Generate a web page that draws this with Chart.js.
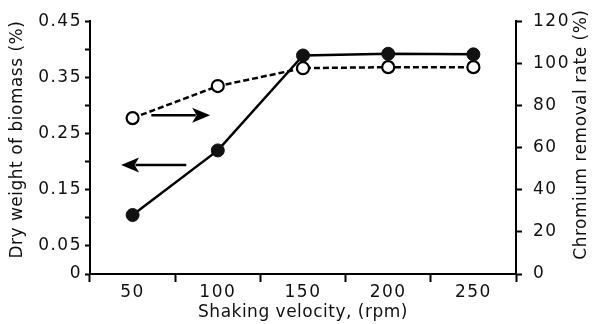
<!DOCTYPE html>
<html>
<head>
<meta charset="utf-8">
<script src="https://cdn.jsdelivr.net/npm/chart.js@4"></script>
<style>
html,body{margin:0;padding:0;background:#fff;}
#wrap{width:598px;height:324px;position:relative;}
</style>
</head>
<body>
<div id="wrap"><canvas id="c" width="598" height="324"></canvas></div>
<script>
const categories = ['50', '100', '150', '200', '250'];
const biomass = [0.105, 0.22, 0.389, 0.392, 0.391];
const chromium = [74, 89.2, 97.7, 98.2, 98.2];
const leftTickLabels = ['0', '0.05', '0.15', '0.25', '0.35', '0.45'];
const rightTicks = [0, 20, 40, 60, 80, 100, 120];
const xTitle = 'Shaking velocity, (rpm)';
const leftTitle = 'Dry weight of biomass (%)';
const rightTitle = 'Chromium removal rate (%)';
// arrows pointing to their axis: [axisId, value, fromIndex, toIndex]
const arrows = [
  ['y2', 75.4, 0.22, 0.91],
  ['y', 0.194, 0.63, -0.135]
];

const FONT = "'DejaVu Sans', sans-serif";
const TITLE_SIZE = 17;

const spacingPlugin = {
  id: 'spacing',
  beforeLayout(chart) { chart.ctx.letterSpacing = '0.5px'; },
  beforeDraw(chart) {
    chart.ctx.letterSpacing = '0.5px';
    Object.values(chart.scales).forEach(s => {
      if (!s._wrappedLS) {
        const orig = s.drawLabels;
        s.drawLabels = function (a) {
          const c = this.ctx;
          c.save();
          c.letterSpacing = '1.5px';
          orig.call(this, a);
          c.restore();
        };
        s._wrappedLS = true;
      }
    });
  }
};

// vertical axis titles, both reading bottom-to-top
const yTitlePlugin = {
  id: 'yTitles',
  afterDraw(chart) {
    const ctx = chart.ctx;
    const ca = chart.chartArea;
    const cy = (ca.top + ca.bottom) / 2;
    ctx.save();
    ctx.letterSpacing = '0.5px';
    ctx.fillStyle = '#111';
    ctx.font = TITLE_SIZE + 'px ' + FONT;
    ctx.textAlign = 'center';
    ctx.textBaseline = 'middle';
    [[chart.scales.y.left + 18, cy - 8, leftTitle], [chart.scales.y2.right - 16, cy - 13, rightTitle]].forEach(([x, y, t]) => {
      ctx.save();
      ctx.translate(x, y);
      ctx.rotate(-Math.PI / 2);
      ctx.fillText(t, 0, 0);
      ctx.restore();
    });
    ctx.restore();
  }
};

const arrowPlugin = {
  id: 'arrows',
  afterDatasetsDraw(chart) {
    const ctx = chart.ctx;
    const xs = chart.scales.x;
    ctx.save();
    ctx.strokeStyle = '#000';
    ctx.fillStyle = '#000';
    ctx.lineWidth = 2.5;
    arrows.forEach(([axis, v, f, t]) => {
      const y = chart.scales[axis].getPixelForValue(v);
      const x0 = xs.getPixelForValue(f);
      const x1 = xs.getPixelForValue(t);
      const dir = Math.sign(x1 - x0);
      const headL = 18, headW = 7.5;
      ctx.beginPath();
      ctx.moveTo(x0, y);
      ctx.lineTo(x1 - dir * headL * 0.8, y);
      ctx.stroke();
      ctx.beginPath();
      ctx.moveTo(x1, y);
      ctx.lineTo(x1 - dir * headL, y - headW);
      ctx.lineTo(x1 - dir * headL * 0.75, y);
      ctx.lineTo(x1 - dir * headL, y + headW);
      ctx.closePath();
      ctx.fill();
    });
    ctx.restore();
  }
};

new Chart(document.getElementById('c'), {
  type: 'line',
  data: {
    labels: categories,
    datasets: [
      {
        label: 'Dry weight of biomass',
        data: biomass,
        yAxisID: 'y',
        borderColor: '#000',
        borderWidth: 2.5,
        backgroundColor: '#111',
        pointBackgroundColor: '#111',
        pointBorderColor: '#111',
        pointBorderWidth: 1,
        pointRadius: 6.5,
        tension: 0
      },
      {
        label: 'Chromium removal rate',
        data: chromium,
        yAxisID: 'y2',
        borderColor: '#000',
        borderWidth: 2.5,
        borderDash: [6, 3],
        pointBackgroundColor: '#fff',
        pointBorderColor: '#000',
        pointBorderWidth: 2.2,
        pointRadius: 6,
        tension: 0
      }
    ]
  },
  options: {
    responsive: false,
    animation: false,
    devicePixelRatio: 1,
    layout: { padding: { top: 21, left: 0, right: 0, bottom: 0 } },
    plugins: { legend: { display: false }, tooltip: { enabled: false } },
    scales: {
      x: {
        type: 'category',
        offset: true,
        grid: { offset: true, drawOnChartArea: false, color: '#000', tickLength: 8, tickWidth: 2 },
        border: { color: '#000', width: 2 },
        ticks: { color: '#111', font: { family: FONT, size: 17 }, padding: 0, maxRotation: 0 },
        title: { display: true, text: xTitle, color: '#111', font: { family: FONT, size: TITLE_SIZE }, padding: { top: 0, bottom: 1 } },
        afterFit(s) { s.height = 50; }
      },
      y: {
        position: 'left',
        min: 0,
        max: 0.45,
        grid: { drawOnChartArea: false, color: '#000', tickLength: 5, tickWidth: 2 },
        border: { color: '#000', width: 2 },
        ticks: {
          stepSize: 0.05,
          color: '#111',
          padding: 3,
          font: { family: FONT, size: 17 },
          callback(v) {
            const s = String(Math.round(v * 100) / 100);
            return leftTickLabels.includes(s) ? s : '';
          }
        },
        title: { display: false, text: leftTitle },
        afterFit(s) { s.width = 90; }
      },
      y2: {
        position: 'right',
        min: 0,
        max: 120,
        grid: { drawOnChartArea: false, color: '#000', tickLength: 6, tickWidth: 2 },
        border: { color: '#000', width: 2 },
        afterBuildTicks(s) { s.ticks = rightTicks.map(v => ({ value: v })); },
        ticks: { color: '#111', padding: 11, font: { family: FONT, size: 17 } },
        title: { display: false, text: rightTitle },
        afterFit(s) { s.width = 82; }
      }
    }
  },
  plugins: [spacingPlugin, arrowPlugin, yTitlePlugin]
});
</script>
</body>
</html>
